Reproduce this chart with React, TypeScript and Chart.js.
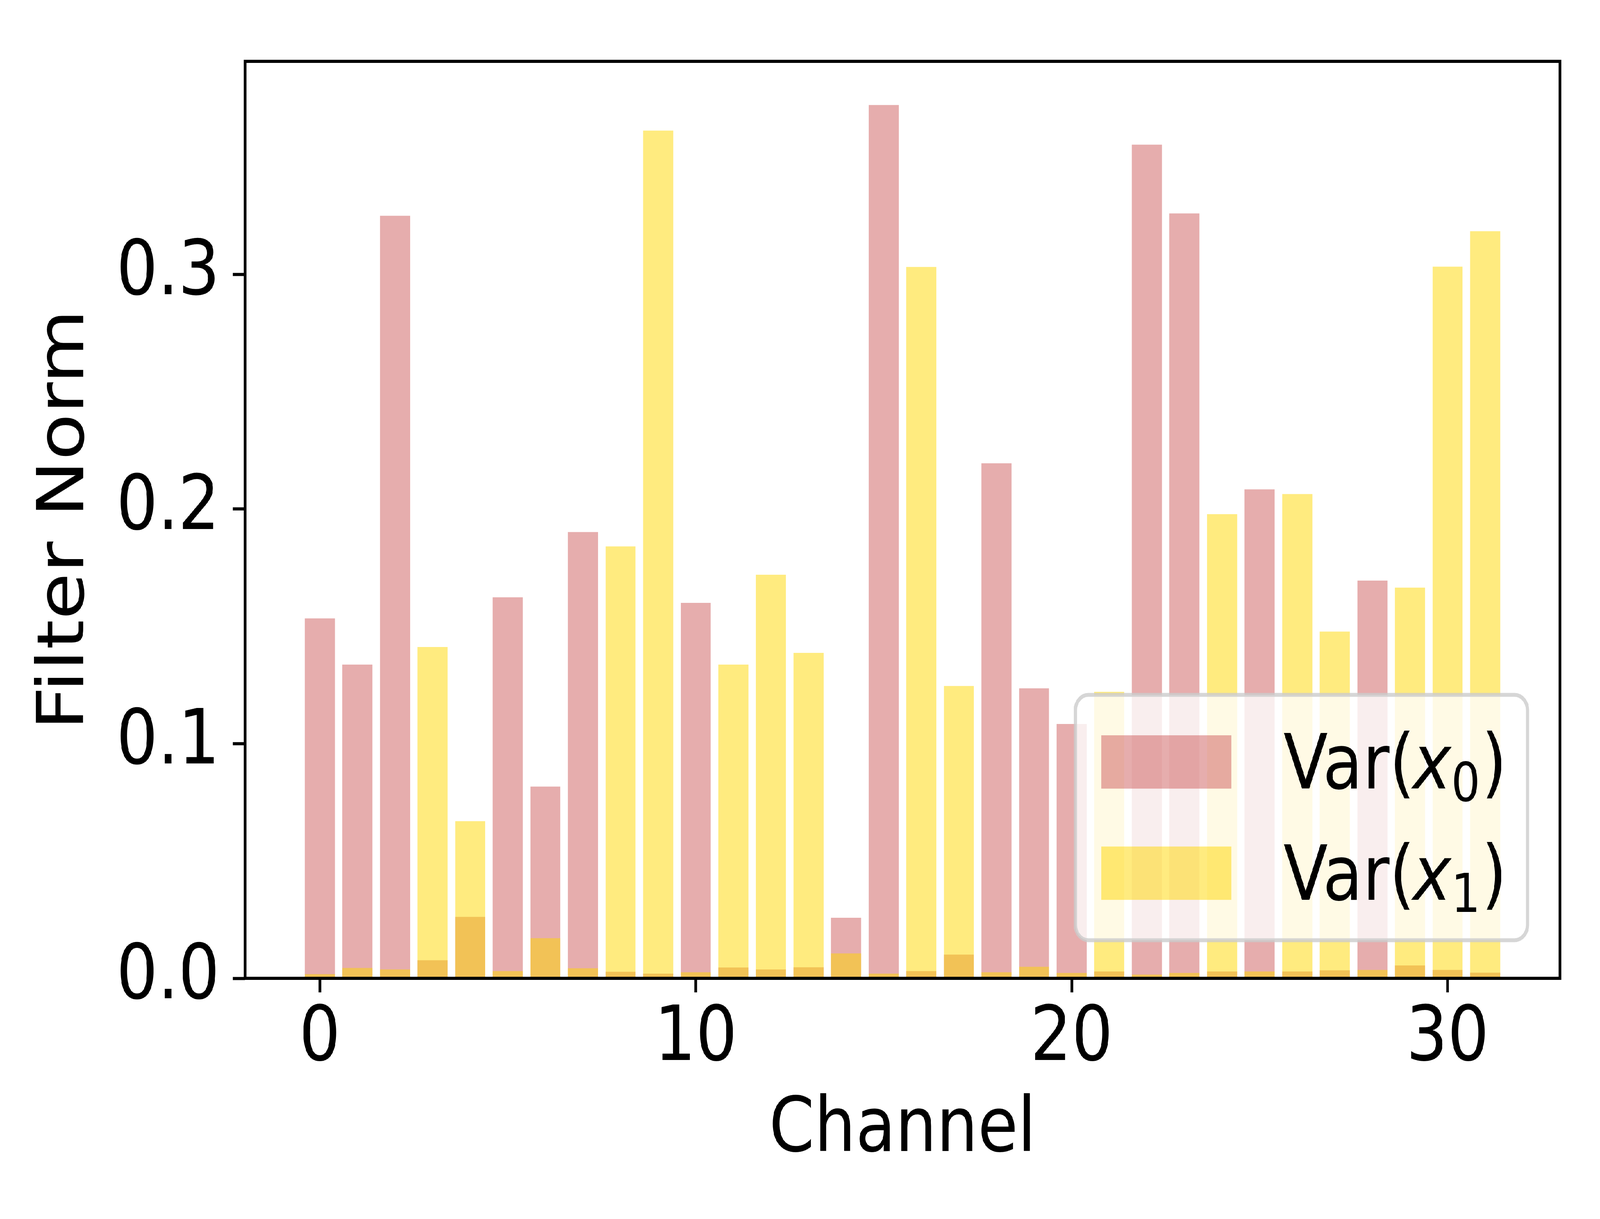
import { useEffect, useRef } from "react";
import { Chart, Plugin, registerables } from "chart.js";

Chart.register(...registerables);

const channels = [
  0, 1, 2, 3, 4, 5, 6, 7, 8, 9, 10, 11, 12, 13, 14, 15,
  16, 17, 18, 19, 20, 21, 22, 23, 24, 25, 26, 27, 28, 29, 30, 31,
];

// Var(x0)
const varX0 = [
  0.1534, 0.1337, 0.325, 0.0077, 0.0262, 0.1624, 0.0817, 0.1902,
  0.0028, 0.002, 0.160, 0.0046, 0.0038, 0.0047, 0.0258, 0.3722,
  0.0031, 0.0101, 0.2195, 0.1236, 0.1084, 0.0029, 0.3553, 0.326,
  0.0029, 0.2084, 0.0029, 0.0034, 0.1695, 0.0055, 0.0036, 0.0024,
];

// Var(x1)
const varX1 = [
  0.0018, 0.0044, 0.0038, 0.1412, 0.067, 0.0031, 0.0171, 0.0043,
  0.1841, 0.3613, 0.0026, 0.1337, 0.172, 0.1387, 0.0106, 0.002,
  0.3032, 0.1246, 0.0026, 0.0049, 0.0023, 0.1221, 0.0016, 0.0023,
  0.1978, 0.0029, 0.2064, 0.1478, 0.0036, 0.1665, 0.3033, 0.3184,
];

const seriesLabels = ["Var(x0)", "Var(x1)"];
const xTickStep = 10;
const yTickStep = 0.1;

const W = 4800;
const H = 3120;
const PINK = "rgba(205, 92, 92, 0.5)";
const GOLD = "rgba(255, 215, 0, 0.5)";
const FONT = "DejaVu Sans";
const FS = 195;
const LW = 8;

// matplotlib style frame around the axes
const framePlugin: Plugin<"bar"> = {
  id: "frame",
  afterDatasetsDraw(chart) {
    const { ctx, chartArea: a } = chart;
    ctx.save();
    ctx.strokeStyle = "#000";
    ctx.lineWidth = LW;
    ctx.strokeRect(a.left, a.top, a.right - a.left, a.bottom - a.top);
    ctx.restore();
  },
};

// legend in the lower right, drawn like matplotlib's
const legendPlugin: Plugin<"bar"> = {
  id: "mplLegend",
  afterDraw(chart) {
    const { ctx, chartArea: a } = chart;
    const pad = 0.4 * FS;
    const handleW = 2 * FS;
    const handleH = 0.7 * FS;
    const textPad = 0.8 * FS;
    const rowH = 0.96 * FS;
    const spacing = 0.5 * FS;
    const subFs = 0.7 * FS;
    const colors = [PINK, GOLD];
    const subs = ["0", "1"];

    ctx.save();
    const main = `${FS}px "${FONT}"`;
    const ital = `italic ${FS}px "${FONT}"`;
    const sub = `${subFs}px "${FONT}"`;
    // pieces of "Var(x_i)" with a little mathtext-like kerning
    const parts = (i: number) => [
      { t: "Var(", f: main, dy: 0, kern: 0 },
      { t: "x", f: ital, dy: 0, kern: -0.03 * FS },
      { t: subs[i], f: sub, dy: 0.16 * FS, kern: 0 },
      { t: ")", f: main, dy: 0, kern: 0.02 * FS },
    ];
    const widthOf = (i: number) => {
      const ps = parts(i);
      let w = 0;
      ps.forEach((p, k) => {
        ctx.font = p.f;
        const m = ctx.measureText(p.t);
        w += p.kern + (k === ps.length - 1 ? m.actualBoundingBoxRight : m.width);
      });
      return w;
    };
    const textW = Math.max(widthOf(0), widthOf(1));

    const boxW = pad * 2 + handleW + textPad + textW;
    const boxH = pad * 2 + rowH * 2 + spacing;
    const right = a.right - 0.5 * FS;
    const bottom = a.bottom - 0.5 * FS;
    const left = right - boxW;
    const top = bottom - boxH;

    ctx.beginPath();
    ctx.roundRect(left, top, boxW, boxH, 0.2 * FS);
    ctx.fillStyle = "rgba(255, 255, 255, 0.8)";
    ctx.fill();
    ctx.lineWidth = 10;
    ctx.strokeStyle = "rgba(204, 204, 204, 0.8)";
    ctx.stroke();

    seriesLabels.forEach((_, i) => {
      const cy = top + pad + rowH / 2 + i * (rowH + spacing);
      ctx.fillStyle = colors[i];
      ctx.fillRect(left + pad, cy - handleH / 2, handleW, handleH);
      let x = left + pad + handleW + textPad;
      const baseline = cy + handleH / 2;
      ctx.fillStyle = "#000";
      ctx.textBaseline = "alphabetic";
      ctx.textAlign = "left";
      parts(i).forEach((p) => {
        ctx.font = p.f;
        x += p.kern;
        ctx.fillText(p.t, x, baseline + p.dy);
        x += ctx.measureText(p.t).width;
      });
    });
    ctx.restore();
  },
};

export default function App() {
  const canvasRef = useRef<HTMLCanvasElement>(null);
  const chartRef = useRef<Chart | null>(null);

  useEffect(() => {
    if (!canvasRef.current) return;
    if (chartRef.current) chartRef.current.destroy();

    // matplotlib autoscale margins (5%)
    const xLo = channels[0] - 0.4;
    const xHi = channels[channels.length - 1] + 0.4;
    const xMin = xLo - 0.05 * (xHi - xLo);
    const xMax = xHi + 0.05 * (xHi - xLo);
    const yMax = Math.max(...varX0, ...varX1) * 1.05;

    const tickFont = { family: FONT, size: FS };
    const grid = {
      display: true,
      drawOnChartArea: false,
      drawTicks: true,
      tickLength: 36,
      tickWidth: LW,
      tickColor: "#000",
    };

    chartRef.current = new Chart(canvasRef.current, {
      type: "bar",
      data: {
        datasets: [
          {
            label: seriesLabels[0],
            data: channels.map((c, i) => ({ x: c, y: varX0[i] })),
            backgroundColor: PINK,
            borderWidth: 0,
            order: 2,
          },
          {
            label: seriesLabels[1],
            data: channels.map((c, i) => ({ x: c, y: varX1[i] })),
            backgroundColor: GOLD,
            borderWidth: 0,
            order: 1,
          },
        ],
      },
      options: {
        animation: false,
        responsive: false,
        devicePixelRatio: 1,
        layout: { padding: { left: 0, top: 122, right: 120, bottom: 0 } },
        datasets: {
          bar: { grouped: false, categoryPercentage: 1, barPercentage: 0.8 },
        },
        plugins: {
          legend: { display: false },
          tooltip: { enabled: false },
        },
        scales: {
          x: {
            type: "linear",
            min: xMin,
            max: xMax,
            offset: false,
            grid: { ...grid, offset: false },
            border: { display: false },
            ticks: {
              stepSize: xTickStep,
              includeBounds: false,
              autoSkip: false,
              maxRotation: 0,
              padding: 5,
              color: "#000",
              font: tickFont,
              callback: (v) => String(v),
            },
            title: {
              display: true,
              text: "Channel",
              color: "#000",
              font: tickFont,
              padding: { top: 0, bottom: 108 },
            },
            afterFit: (s) => {
              s.height = 616;
            },
          },
          y: {
            type: "linear",
            min: 0,
            max: yMax,
            grid,
            border: { display: false },
            ticks: {
              stepSize: yTickStep,
              includeBounds: false,
              padding: 40,
              color: "#000",
              font: tickFont,
              callback: (v) => Number(v).toFixed(1),
            },
            title: {
              display: true,
              text: "Filter Norm",
              color: "#000",
              font: tickFont,
              padding: { top: 82, bottom: 0 },
            },
            afterFit: (s) => {
              s.width = 735;
            },
          },
        },
      },
      plugins: [framePlugin, legendPlugin],
    });

    return () => {
      if (chartRef.current) {
        chartRef.current.destroy();
        chartRef.current = null;
      }
    };
  }, []);

  // the canvas is always 4800x3120 inside; stretch it over the whole viewport
  const sx = window.innerWidth / W;
  const sy = window.innerHeight / H;

  return (
    <div
      style={{
        position: "fixed",
        left: 0,
        top: 0,
        width: W,
        height: H,
        background: "#fff",
        transformOrigin: "0 0",
        transform: `scale(${sx}, ${sy})`,
      }}
    >
      <canvas ref={canvasRef} width={W} height={H} style={{ display: "block" }} />
    </div>
  );
}
